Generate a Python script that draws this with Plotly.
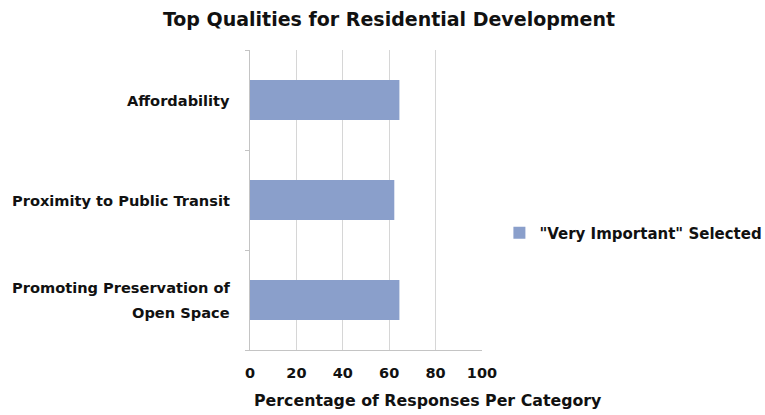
import plotly.graph_objects as go

categories = ["Affordability", "Proximity to Public Transit", "Promoting Preservation of<br>Open Space"]
values = [64.4, 62.2, 64.4]
series_name = "\"Very Important\" Selected"
x_ticks = [0, 20, 40, 60, 80, 100]
title_text = "Top Qualities for Residential Development"
x_title_text = "Percentage of Responses Per Category"

FONT = "'DejaVu Sans', Verdana, sans-serif"
INK = "#111111"

fig = go.Figure()
fig.add_trace(go.Bar(
    y=categories, x=values, orientation="h", name=series_name,
    marker=dict(color="#8a9fcb", line=dict(width=0)),
    width=0.4, showlegend=True,
))

# category labels as centred annotations (multi-line labels are centred in the reference)
for cat in categories:
    lines = cat.split("<br>")
    n = len(lines)
    for i, line in enumerate(lines):
        fig.add_annotation(
            x=0, xref="paper", y=cat, yref="y",
            xanchor="right", yanchor="middle", xshift=-18,
            yshift=(n - 1) * 12.5 - i * 25,
            text=line, showarrow=False, align="center",
            font=dict(family=FONT, size=14.6, color=INK, weight="bold"),
        )

fig.add_annotation(
    x=0.767, xref="paper", y=-0.167, yref="paper",
    xanchor="center", yanchor="middle",
    text=x_title_text, showarrow=False,
    font=dict(family=FONT, size=15.8, color=INK, weight="bold"),
)

fig.update_layout(
    width=765, height=415,
    paper_bgcolor="white", plot_bgcolor="white",
    margin=dict(l=250, r=283, t=50, b=65, autoexpand=False),
    title=dict(text=title_text, xref="container", x=0.5085, xanchor="center",
               y=0.954, yanchor="middle",
               font=dict(family=FONT, size=19, color=INK, weight="bold")),
    font=dict(family=FONT, size=14, color=INK),
    showlegend=True,
    legend=dict(x=1.075, xanchor="left", y=0.39, yanchor="middle",
                font=dict(family=FONT, size=15, color=INK, weight="bold"),
                itemwidth=30, bgcolor="rgba(0,0,0,0)"),
)
fig.update_xaxes(
    range=[0, 100], tickvals=x_ticks, showgrid=True, gridcolor="#d6d6d6", gridwidth=1,
    zeroline=False, showline=True, linecolor="#c4c4c4",
    tickfont=dict(family=FONT, size=14.5, color=INK, weight="bold"),
    ticks="", ticklabelstandoff=10,
)
fig.update_yaxes(
    categoryorder="array", categoryarray=categories[::-1],
    showline=True, linecolor="#c4c4c4", ticks="outside", tickson="boundaries",
    ticklen=4, tickcolor="#c4c4c4",
    showticklabels=False, showgrid=False,
)
fig.write_html("out.html", post_script="document.body.style.margin='0';",
               config={"displayModeBar": False})
